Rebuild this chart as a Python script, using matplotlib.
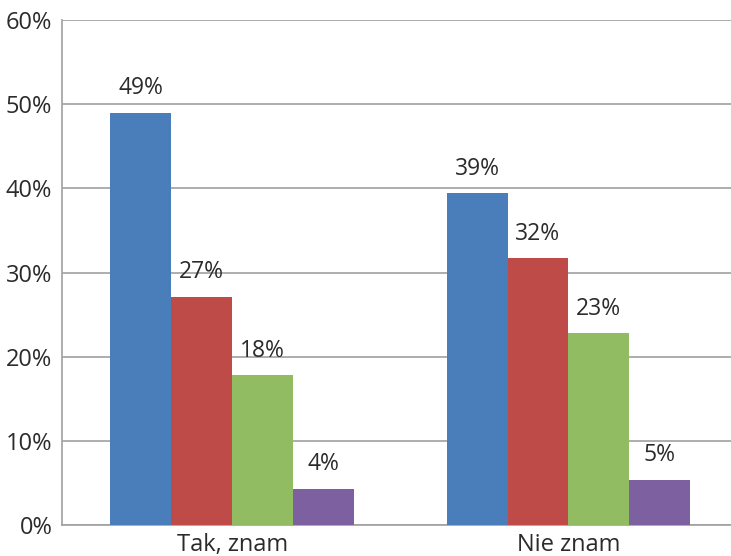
import matplotlib.pyplot as plt
import numpy as np

# Data
categories = ['Tak, znam', 'Nie znam']
series_1 = [49.0, 39.4]
series_2 = [27.1, 31.7]
series_3 = [17.8, 22.8]
series_4 = [4.3, 5.4]
y_ticks = [0, 10, 20, 30, 40, 50, 60]

series = [series_1, series_2, series_3, series_4]
colors = ['#4A7EBB', '#BE4B48', '#92BC62', '#7D60A0']

plt.rcParams['font.family'] = ['Open Sans', 'DejaVu Sans']

fig = plt.figure(figsize=(7.31, 5.56), dpi=100)
ax = fig.add_axes([62 / 731, 31 / 556, 1 - 62 / 731 + 0.003, (525 - 20) / 556])

x = np.arange(len(categories))
width = 0.181
offsets = (np.arange(len(series)) - 1.5) * width

for vals, col, off in zip(series, colors, offsets):
    bars = ax.bar(x + off, vals, width, color=col, zorder=3)
    for b, v in zip(bars, vals):
        ax.annotate('{:.0f}%'.format(v), (b.get_x() + b.get_width() / 2, v),
                    xytext=(0, 9), textcoords='offset points',
                    ha='center', va='bottom', fontsize=16.5, color='#2b2b2b')

ax.set_xlim(-0.506, 1.49)
ax.set_ylim(0, 60)
ax.set_yticks(y_ticks)
ax.set_yticklabels(['{}%'.format(t) for t in y_ticks], fontsize=17, color='#2b2b2b')
ax.set_xticks(x)
ax.set_xticklabels(categories, fontsize=17, color='#2b2b2b')
ax.tick_params(axis='y', length=0, pad=7)
ax.tick_params(axis='x', length=0, pad=6)

ax.grid(axis='y', color='#A0A0A0', linewidth=1.2, zorder=0)
for s in ['top', 'right']:
    ax.spines[s].set_visible(False)
ax.spines['left'].set_color('#A0A0A0')
ax.spines['bottom'].set_color('#A0A0A0')
ax.spines['left'].set_linewidth(1.2)
ax.spines['bottom'].set_linewidth(1.2)

plt.savefig('out.png', dpi=100)
